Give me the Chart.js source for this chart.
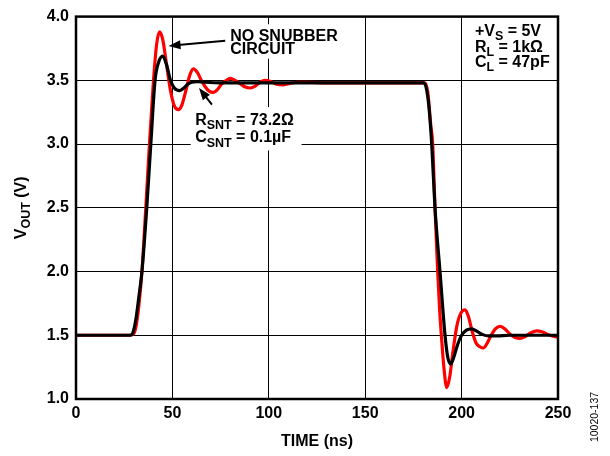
<!DOCTYPE html>
<html lang="en">
<head>
  <meta charset="UTF-8" />
  <title>VOUT vs time, snubber</title>
  <script src="https://cdn.jsdelivr.net/npm/chart.js"></script>
  <style>
    html, body { margin: 0; padding: 0; background: #fff; }
    canvas { display: block; }
  </style>
</head>
<body>
<canvas id="snubber" width="610" height="456"></canvas>

<script>
  // time axis ticks (ns) and voltage ticks (V)
  const timeTicks = [0, 50, 100, 150, 200, 250];
  const voltTicks = [1.0, 1.5, 2.0, 2.5, 3.0, 3.5, 4.0];

  // no snubber circuit (red)
  const redT = [0, 28, 29.8, 31, 32.5, 34.2, 36.2, 38.1, 40.2, 41.8, 43.3, 45, 47, 49, 51, 53.1, 55, 57, 59, 60.9,
    63, 65, 67, 69, 71.3, 73.5, 75.5, 78, 80, 82.5, 85, 87.5, 90.3, 93, 95.5, 98, 101, 104, 107.6, 111, 115, 120,
    130, 150, 170, 181, 182.5, 184, 185, 186.2, 187.6, 188.6, 189.6, 190.8, 192.3, 193.8, 195.5, 197.5, 199.5, 201.8,
    203.5, 205.5, 207.5, 209.5, 211.3, 213, 215, 217.5, 220, 222.5, 225, 227.5, 230.3, 233, 236, 239, 242, 245, 248, 250];
  const redV = [1.50, 1.50, 1.51, 1.56, 1.72, 2.00, 2.50, 3.00, 3.50, 3.78, 3.88, 3.82, 3.62, 3.42, 3.30, 3.27, 3.31, 3.42, 3.54, 3.59,
    3.56, 3.50, 3.45, 3.415, 3.405, 3.43, 3.47, 3.50, 3.515, 3.50, 3.475, 3.45, 3.44, 3.455, 3.485, 3.50, 3.49, 3.47, 3.465, 3.475, 3.485, 3.485,
    3.48, 3.48, 3.48, 3.48, 3.40, 3.15, 3.00, 2.50, 2.00, 1.70, 1.48, 1.25, 1.09, 1.17, 1.37, 1.57, 1.67, 1.70,
    1.65, 1.53, 1.44, 1.41, 1.40, 1.43, 1.49, 1.55, 1.57, 1.55, 1.51, 1.485, 1.475, 1.49, 1.52, 1.535, 1.525, 1.505, 1.49, 1.485];

  // RSNT = 73.2 ohm, CSNT = 0.1 uF (black)
  const blackT = [0, 28, 29.5, 31, 32.6, 34.2, 36.7, 38.8, 41, 42.8, 45, 47, 49, 51, 53.7, 56, 58, 60, 63, 67, 75,
    120, 180.2, 181.5, 183, 184.5, 186.2, 188.8, 191.4, 192.8, 194.3, 196, 198, 200, 202.5, 205.2, 208, 211, 214, 218, 225, 250];
  const blackV = [1.50, 1.50, 1.52, 1.62, 1.80, 2.00, 2.50, 3.00, 3.50, 3.64, 3.69, 3.62, 3.50, 3.44, 3.42, 3.44, 3.47, 3.485, 3.49, 3.485, 3.48,
    3.48, 3.48, 3.45, 3.30, 3.00, 2.50, 2.00, 1.50, 1.33, 1.275, 1.33, 1.43, 1.50, 1.54, 1.55, 1.53, 1.505, 1.495, 1.495, 1.50, 1.50];

  const pts = (ts, vs) => ts.map((t, i) => ({ x: t, y: vs[i] }));

  const FONT = '"Liberation Sans", Arial, Helvetica, sans-serif';

  // text made of runs, some of them subscript
  function drawRuns(ctx, x, y, runs, size) {
    ctx.textBaseline = 'alphabetic';
    ctx.textAlign = 'left';
    runs.forEach(r => {
      const fs = r.sub ? size * 0.78 : size;
      ctx.font = 'bold ' + fs + 'px ' + FONT;
      ctx.fillText(r.t, x, y + (r.sub ? size * 0.28 : 0));
      x += ctx.measureText(r.t).width;
    });
  }

  function runsWidth(ctx, runs, size) {
    let w = 0;
    runs.forEach(r => {
      ctx.font = 'bold ' + (r.sub ? size * 0.78 : size) + 'px ' + FONT;
      w += ctx.measureText(r.t).width;
    });
    return w;
  }

  function arrow(ctx, x1, y1, x2, y2) {
    // line from (x1,y1) to tip (x2,y2)
    const a = Math.atan2(y2 - y1, x2 - x1);
    const len = 12, half = 4.5;
    ctx.strokeStyle = '#000';
    ctx.lineWidth = 2;
    ctx.beginPath();
    ctx.moveTo(x1, y1);
    ctx.lineTo(x2 - Math.cos(a) * len * 0.8, y2 - Math.sin(a) * len * 0.8);
    ctx.stroke();
    ctx.fillStyle = '#000';
    ctx.beginPath();
    ctx.moveTo(x2, y2);
    ctx.lineTo(x2 - Math.cos(a) * len - Math.sin(a) * half, y2 - Math.sin(a) * len + Math.cos(a) * half);
    ctx.lineTo(x2 - Math.cos(a) * len + Math.sin(a) * half, y2 - Math.sin(a) * len - Math.cos(a) * half);
    ctx.closePath();
    ctx.fill();
  }

  const notes = {
    id: 'notes',
    beforeDatasetsDraw(chart) {
      const ctx = chart.ctx;
      const x = chart.scales.x, y = chart.scales.y;
      const px = t => x.getPixelForValue(t);
      const py = v => y.getPixelForValue(v);
      ctx.save();
      // white boxes behind the labels
      ctx.fillStyle = '#fff';
      ctx.fillRect(px(77), py(3.94), px(137) - px(77), py(3.67) - py(3.94));
      ctx.fillRect(px(59.5), py(3.29), px(117) - px(59.5), py(2.95) - py(3.29));
      ctx.restore();
    },
    afterDatasetsDraw(chart) {
      const ctx = chart.ctx;
      const a = chart.chartArea;
      const x = chart.scales.x, y = chart.scales.y;
      const px = t => x.getPixelForValue(t);
      const py = v => y.getPixelForValue(v);
      ctx.save();

      // frame
      ctx.strokeStyle = '#000';
      ctx.lineWidth = 2.5;
      ctx.strokeRect(a.left, a.top, a.right - a.left, a.bottom - a.top);

      ctx.fillStyle = '#000';
      drawRuns(ctx, px(80), py(3.81), [{ t: 'NO SNUBBER' }], 16);
      drawRuns(ctx, px(80), py(3.705), [{ t: 'CIRCUIT' }], 16);
      arrow(ctx, px(77.4), py(3.81), px(48), py(3.77));

      drawRuns(ctx, px(61.8), py(3.15), [{ t: 'R' }, { t: 'SNT', sub: true }, { t: ' = 73.2Ω' }], 16);
      drawRuns(ctx, px(61.8), py(3.014), [{ t: 'C' }, { t: 'SNT', sub: true }, { t: ' = 0.1µF' }], 16);
      arrow(ctx, px(70.5), py(3.31), px(63.8), py(3.44));

      drawRuns(ctx, px(206.9), py(3.85), [{ t: '+V' }, { t: 'S', sub: true }, { t: ' = 5V' }], 16);
      drawRuns(ctx, px(206.9), py(3.726), [{ t: 'R' }, { t: 'L', sub: true }, { t: ' = 1kΩ' }], 16);
      drawRuns(ctx, px(206.9), py(3.605), [{ t: 'C' }, { t: 'L', sub: true }, { t: ' = 47pF' }], 16);

      // axis titles
      const xt = 'TIME (ns)';
      ctx.font = 'bold 16px ' + FONT;
      ctx.textAlign = 'center';
      ctx.textBaseline = 'alphabetic';
      ctx.fillText(xt, (a.left + a.right) / 2, 446);

      const yRuns = [{ t: 'V' }, { t: 'OUT', sub: true }, { t: ' (V)' }];
      ctx.save();
      ctx.translate(26, (a.top + a.bottom) / 2);
      ctx.rotate(-Math.PI / 2);
      drawRuns(ctx, -runsWidth(ctx, yRuns, 16) / 2, 0, yRuns, 16);
      ctx.restore();

      // figure id
      ctx.save();
      ctx.translate(598, 417);
      ctx.rotate(-Math.PI / 2);
      ctx.font = '10.5px ' + FONT;
      ctx.textAlign = 'center';
      ctx.fillText('10020-137', 0, 0);
      ctx.restore();

      ctx.restore();
    }
  };

  new Chart(document.getElementById('snubber'), {
    type: 'line',
    data: {
      datasets: [{
        label: 'RSNT = 73.2Ω, CSNT = 0.1µF',
        data: pts(blackT, blackV),
        borderColor: '#000',
        borderWidth: 3.2,
        pointRadius: 0,
        cubicInterpolationMode: 'monotone'
      }, {
        label: 'No snubber circuit',
        data: pts(redT, redV),
        borderColor: '#ff0000',
        borderWidth: 3.2,
        pointRadius: 0,
        cubicInterpolationMode: 'monotone'
      }]
    },
    options: {
      responsive: false,
      animation: false,
      devicePixelRatio: 1,
      layout: { padding: { top: 13, right: 52, left: 0, bottom: 0 } },
      plugins: { legend: { display: false }, tooltip: { enabled: false } },
      scales: {
        x: {
          type: 'linear',
          min: timeTicks[0],
          max: timeTicks[timeTicks.length - 1],
          afterBuildTicks: s => { s.ticks = timeTicks.map(v => ({ value: v })); },
          afterFit: s => { s.height = 57; },
          ticks: { color: '#000', font: { family: FONT, size: 16, weight: 'bold' }, padding: 5, maxRotation: 0 },
          grid: { color: '#000', lineWidth: 1, drawTicks: false },
          border: { display: false }
        },
        y: {
          min: voltTicks[0],
          max: voltTicks[voltTicks.length - 1],
          afterBuildTicks: s => { s.ticks = voltTicks.map(v => ({ value: v })); },
          afterFit: s => { s.width = 76; },
          ticks: {
            color: '#000', font: { family: FONT, size: 16, weight: 'bold' }, padding: 7,
            callback: v => v.toFixed(1)
          },
          grid: { color: '#000', lineWidth: 1, drawTicks: false },
          border: { display: false }
        }
      }
    },
    plugins: [notes]
  });
</script>
</body>
</html>
